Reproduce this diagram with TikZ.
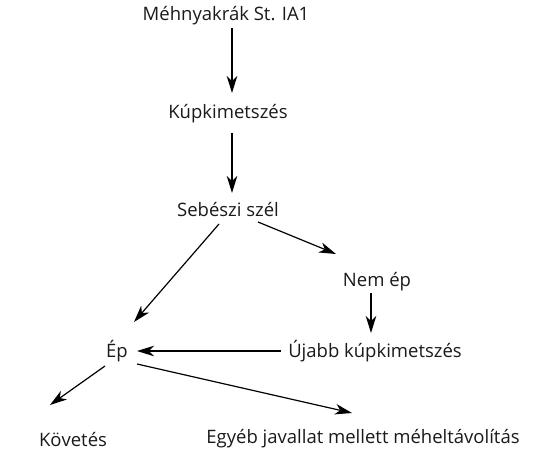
\documentclass[tikz,border=0pt]{standalone}
\usepackage{fontspec}
\setmainfont{Open Sans}
\usetikzlibrary{arrows.meta, positioning, calc}
\definecolor{inkgray}{HTML}{1A1A1A}

\begin{document}
\begin{tikzpicture}[x=1pt, y=-1pt, >={Stealth[length=17pt, width=10.5pt, inset=5pt]}, line width=1.2pt,
  lbl/.style={font=\fontsize{18.5}{21}\selectfont, text=inkgray, inner sep=2pt},
  flow/.style={draw=black, ->}]

\useasboundingbox (0,0) rectangle (540,460);

%% Labels
\node[lbl] (mehnyak) at (226,16) {Méhnyakrák St. IA1};
\node[lbl] (kup) at (228,114) {Kúpkimetszés};
\node[lbl] (szel) at (228,210) {Sebészi szél};
\node[lbl] (nemep) at (377,282) {Nem ép};
\node[lbl] (ep) at (117,351) {Ép};
\node[lbl] (ujabb) at (375,351) {Újabb kúpkimetszés};
\node[lbl] (kovetes) at (73,439) {Követés};
\node[lbl] (egyeb) at (363,439) {Egyéb javallat mellett méheltávolítás};

%% Arrows
\draw[flow] ($(mehnyak)+(6,12)$) -- ($(kup)+(4,-21)$);
\draw[flow] ($(kup)+(4,19)$) -- ($(szel)+(4,-17)$);
\draw[flow] ($(szel)+(-9,14)$) -- ($(ep)+(17,-29)$);
\draw[flow] ($(szel)+(30,12)$) -- ($(nemep)+(-41,-28)$);
\draw[flow] ($(nemep)+(-6,11)$) -- ($(ujabb)+(-4,-18)$);
\draw[flow] ($(ujabb)+(-94,0)$) -- ($(ep)+(20,0)$);
\draw[flow] ($(ep)+(20,13)$) -- ($(egyeb)+(-11,-26)$);
\draw[flow] ($(ep)+(-12,15)$) -- ($(kovetes)+(-23,-34)$);

\end{tikzpicture}
\end{document}
